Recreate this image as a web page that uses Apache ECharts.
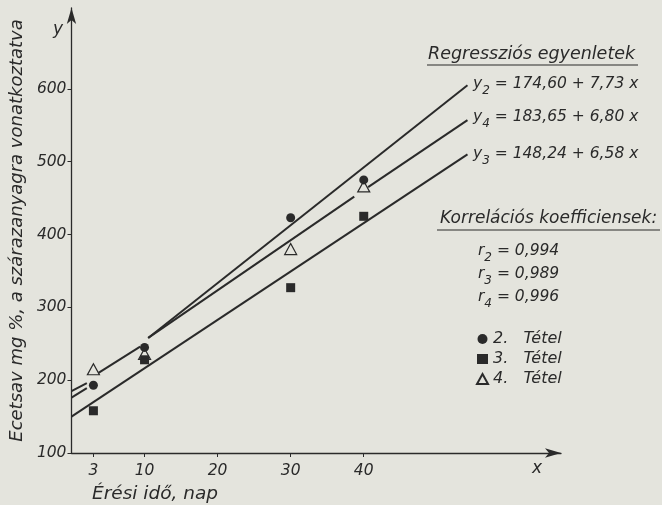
<!DOCTYPE html>
<html>
<head>
<meta charset="utf-8">
<script src="https://cdn.jsdelivr.net/npm/echarts@6/dist/echarts.min.js"></script>
<style>
  html, body { margin: 0; padding: 0; background: #e4e4dd; }
  #chart { width: 662px; height: 505px; }
</style>
</head>
<body>
<div id="chart"></div>
<script>
// measured points (x = days, y = acetic acid mg %)
const days = [3, 10, 30, 40];
const tetel2 = [193, 245, 423, 475];
const tetel3 = [158, 228, 327, 425];
const tetel4 = [215, 236, 380, 466];

// regression lines as drawn (broken around the points)
const line2Segs = [
    [[0, 176], [2.1, 189]],
    [[10.5, 258], [54.2, 605]]
];
const line4Segs = [
    [[0, 185], [2.1, 196]],
    [[3.7, 210], [9.4, 246]],
    [[10.5, 258], [38.7, 452]],
    [[40.6, 465], [54.2, 557]]
];
const line3Segs = [
    [[0, 150], [54.2, 510]]
];

const xTicks = [3, 10, 20, 30, 40];
const yTicks = [100, 200, 300, 400, 500, 600];

const ink = '#2a2a2a';
const font = 'DejaVu Sans';

function pairs(ys) {
    return days.map((d, i) => [d, ys[i]]);
}

const lineSeries = [];
[line2Segs, line4Segs, line3Segs].forEach(segs => {
    segs.forEach(seg => {
        lineSeries.push({
            type: 'line',
            data: seg,
            symbol: 'none',
            silent: true,
            lineStyle: { color: ink, width: 2 }
        });
    });
});

const chart = echarts.init(document.getElementById('chart'));

const sub = { fontSize: 12, fontStyle: 'italic', fontFamily: font, verticalAlign: 'bottom', lineHeight: 26, fill: ink };
const main = { fontSize: 15.5, fontStyle: 'italic', fontFamily: font, verticalAlign: 'middle', lineHeight: 26, fill: ink };

function label(x, y, text, size) {
    return {
        type: 'text',
        x: x, y: y,
        style: { text: text, fill: ink, fontSize: size, fontStyle: 'italic', fontFamily: font, verticalAlign: 'middle' }
    };
}

function eqText(x, y, text) {
    return {
        type: 'text',
        x: x, y: y,
        style: {
            text: text,
            fill: ink,
            fontSize: 15.5,
            fontStyle: 'italic',
            fontFamily: font,
            verticalAlign: 'middle',
            rich: { m: main, s: sub }
        }
    };
}

const option = {
    backgroundColor: '#e4e4dd',
    animation: false,
    grid: { left: 71, right: 101, top: 8, bottom: 52 },
    xAxis: {
        type: 'value',
        min: 0,
        max: 67,
        splitLine: { show: false },
        axisLine: { lineStyle: { color: ink, width: 1.3 }, symbol: ['none', 'arrow'], symbolSize: [7, 16] },
        axisTick: { customValues: xTicks, length: 4, lineStyle: { color: ink } },
        axisLabel: {
            customValues: xTicks,
            margin: 10,
            color: ink,
            fontSize: 15.5,
            fontStyle: 'italic',
            fontFamily: font
        }
    },
    yAxis: {
        type: 'value',
        min: 100,
        max: 711,
        name: 'Ecetsav mg %, a szárazanyagra vonatkoztatva',
        nameLocation: 'middle',
        nameRotate: 90,
        nameGap: 44,
        nameTextStyle: { color: ink, fontSize: 18, fontStyle: 'italic', fontFamily: font },
        splitLine: { show: false },
        axisLine: { lineStyle: { color: ink, width: 1.3 }, symbol: ['none', 'arrow'], symbolSize: [7, 16] },
        axisTick: { customValues: yTicks, length: 4, lineStyle: { color: ink } },
        axisLabel: {
            customValues: yTicks,
            margin: 5,
            color: ink,
            fontSize: 15.5,
            fontStyle: 'italic',
            fontFamily: font
        }
    },
    legend: {
        orient: 'vertical',
        left: 471,
        top: 326,
        itemWidth: 11,
        itemHeight: 10,
        itemGap: 4,
        selectedMode: false,
        textStyle: { color: ink, fontSize: 16, fontStyle: 'italic', fontFamily: font },
        data: ['2.   Tétel', '3.   Tétel', '4.   Tétel']
    },
    graphic: [
        label(53, 30, 'y', 17),
        label(532, 469, 'x', 17),
        label(92, 494, 'Érési idő, nap', 18.5),
        label(428, 54, 'Regressziós egyenletek', 17.5),
        { type: 'line', shape: { x1: 427, y1: 65, x2: 638, y2: 65 }, style: { stroke: ink, lineWidth: 1.2 } },
        eqText(473, 84, '{m|y}{s|2}{m| = 174,60 + 7,73 x}'),
        eqText(473, 117, '{m|y}{s|4}{m| = 183,65 + 6,80 x}'),
        eqText(473, 154, '{m|y}{s|3}{m| = 148,24 + 6,58 x}'),
        label(440, 219, 'Korrelációs koefficiensek:', 17),
        { type: 'line', shape: { x1: 437, y1: 230, x2: 660, y2: 230 }, style: { stroke: ink, lineWidth: 1.2 } },
        eqText(478, 251, '{m|r}{s|2}{m| = 0,994}'),
        eqText(478, 274, '{m|r}{s|3}{m| = 0,989}'),
        eqText(478, 297, '{m|r}{s|4}{m| = 0,996}')
    ],
    series: lineSeries.concat([
        {
            name: '2.   Tétel',
            type: 'scatter',
            data: pairs(tetel2),
            symbol: 'circle',
            symbolSize: 9,
            itemStyle: { color: ink, opacity: 1 }
        },
        {
            name: '3.   Tétel',
            type: 'scatter',
            data: pairs(tetel3),
            symbol: 'rect',
            symbolSize: 9,
            itemStyle: { color: ink, opacity: 1 }
        },
        {
            name: '4.   Tétel',
            type: 'scatter',
            data: pairs(tetel4),
            symbol: 'triangle',
            symbolSize: [12, 11],
            itemStyle: { color: 'rgba(0,0,0,0)', borderColor: ink, borderWidth: 1.2, opacity: 1 }
        }
    ])
};

chart.setOption(option);
</script>
</body>
</html>
